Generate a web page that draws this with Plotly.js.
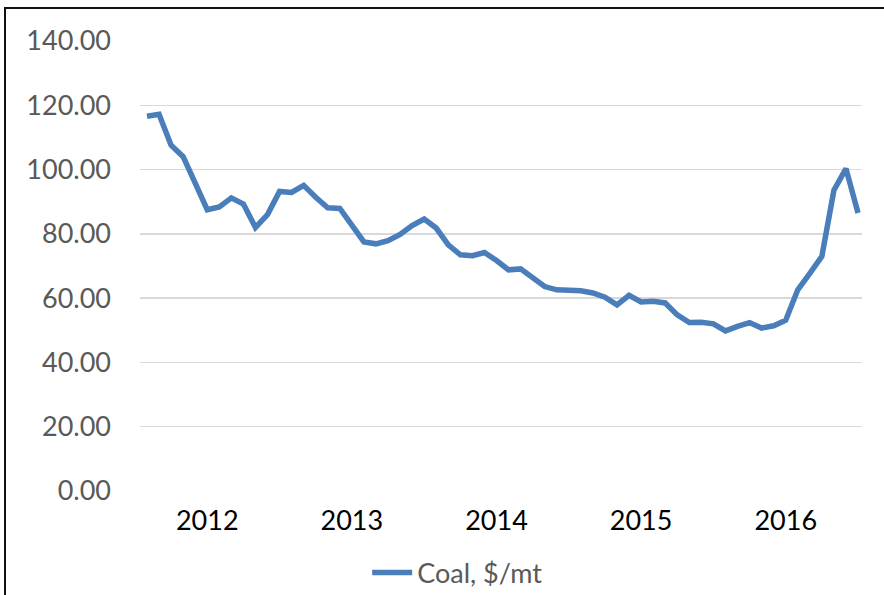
<!DOCTYPE html>
<html>
<head>
<meta charset="utf-8">
<script src="https://cdn.plot.ly/plotly-3.0.1.min.js"></script>
<style>
  html, body { margin: 0; padding: 0; background: #ffffff; }
  #chart { position: absolute; left: 0; top: 0; width: 884px; height: 595px; }
  #frame { position: absolute; left: 4px; top: 7px; width: 900px; height: 600px;
           border-left: 2px solid #111; border-top: 2px solid #111; pointer-events: none; }
</style>
</head>
<body>
<div id="chart"></div>
<div id="frame"></div>
<script>
// Monthly observations, Aug 2011 - Jul 2016
const months = [
  "2011-08","2011-09","2011-10","2011-11","2011-12",
  "2012-01","2012-02","2012-03","2012-04","2012-05","2012-06","2012-07","2012-08","2012-09","2012-10","2012-11","2012-12",
  "2013-01","2013-02","2013-03","2013-04","2013-05","2013-06","2013-07","2013-08","2013-09","2013-10","2013-11","2013-12",
  "2014-01","2014-02","2014-03","2014-04","2014-05","2014-06","2014-07","2014-08","2014-09","2014-10","2014-11","2014-12",
  "2015-01","2015-02","2015-03","2015-04","2015-05","2015-06","2015-07","2015-08","2015-09","2015-10","2015-11","2015-12",
  "2016-01","2016-02","2016-03","2016-04","2016-05","2016-06","2016-07"
];
const coal = [
  116.6,117.2,107.6,104.0,95.8,
  87.5,88.4,91.2,89.3,82.0,86.0,93.2,92.9,95.1,91.4,88.1,87.9,
  82.7,77.5,76.9,77.9,79.8,82.6,84.6,81.8,76.6,73.5,73.2,74.2,
  71.7,68.8,69.1,66.3,63.6,62.6,62.6,62.3,61.6,60.3,57.9,60.9,
  58.8,59.0,58.5,54.8,52.4,52.5,52.0,49.8,51.2,52.4,50.7,51.4,
  53.1,62.6,67.7,73.0,93.6,100.3,86.5
];
const seriesName = "Coal, $/mt";
const yTicks = [0, 20, 40, 60, 80, 100, 120, 140];

const xIdx = months.map((m, i) => i);
const tickIdx = [], tickTxt = [];
months.forEach((m, i) => { if (m.endsWith("-01")) { tickIdx.push(i); tickTxt.push(m.slice(0, 4)); } });

const fontFam = "Lato, 'Open Sans', sans-serif";

const trace = {
  x: xIdx, y: coal, type: "scatter", mode: "lines", name: seriesName,
  line: { color: "#4A7EBB", width: 5.5, shape: "linear" },
  showlegend: true
};

const layout = {
  width: 884, height: 595,
  margin: { l: 140, r: 22, t: 41, b: 104, autoexpand: false },
  paper_bgcolor: "#ffffff", plot_bgcolor: "#ffffff",
  font: { family: fontFam, size: 27, color: "#595959" },
  xaxis: {
    range: [-0.58, months.length - 1 + 0.33],
    tickvals: tickIdx, ticktext: tickTxt,
    showgrid: false, zeroline: false, showline: false, ticks: "",
    tickfont: { family: fontFam, size: 27, color: "#000000" },
    ticklabelstandoff: 11
  },
  yaxis: {
    range: [0, 140],
    tickvals: yTicks, ticktext: yTicks.map(v => v.toFixed(2)),
    showgrid: true, gridcolor: "#D9D9D9", gridwidth: 1.5,
    zeroline: false, showline: false, ticks: "",
    tickfont: { family: fontFam, size: 27, color: "#595959" },
    ticklabelstandoff: 28
  },
  showlegend: true,
  legend: {
    orientation: "h", x: 0.44, xanchor: "center", y: -0.182, yanchor: "middle",
    font: { family: fontFam, size: 27, color: "#595959" },
    bgcolor: "rgba(0,0,0,0)", itemwidth: 40
  }
};

Plotly.newPlot("chart", [trace], layout, { displayModeBar: false, staticPlot: true });
</script>
</body>
</html>
